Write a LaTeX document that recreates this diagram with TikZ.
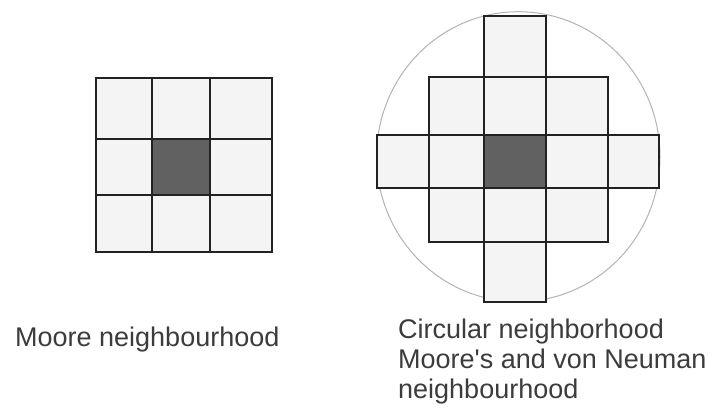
\documentclass[tikz,border=0pt]{standalone}
\usepackage{fontspec}
\setmainfont{Liberation Sans}
\definecolor{cellfill}{HTML}{F4F4F4}
\definecolor{centerfill}{HTML}{616161}
\definecolor{gridline}{HTML}{222222}
\definecolor{ringline}{HTML}{B4B4B4}
\definecolor{labeltext}{HTML}{3C3C3C}
\begin{document}
\begin{tikzpicture}[x=1pt,y=-1pt,
  cell/.style={fill=cellfill,draw=gridline,line width=1.1pt},
  centercell/.style={fill=centerfill,draw=gridline,line width=1.1pt},
  ring/.style={draw=ringline,line width=1pt},
  caption/.style={anchor=base west,inner sep=0pt,text=labeltext,font=\fontsize{27}{30}\selectfont}]
\useasboundingbox[fill=white] (0,0) rectangle (717,408);
% Moore neighbourhood
\foreach \xa/\xb in {96/152,152/210,210/272}
  \foreach \ya/\yb in {78/139,139/195,195/252}
    \path[cell] (\xa,\ya) rectangle (\xb,\yb);
\path[centercell] (152,139) rectangle (210,195);
% Circular neighbourhood
\path[ring] (518.3,156.7) ellipse [x radius=141.7pt, y radius=145pt];
\path[cell] (484,16) rectangle (546,78);
\path[cell] (484,241) rectangle (546,302);
\path[cell] (377,135) rectangle (429,188);
\path[cell] (608,135) rectangle (659,188);
\foreach \xa/\xb in {429/484,484/546,546/608}
  \foreach \ya/\yb in {77/135,135/188,188/242}
    \path[cell] (\xa,\ya) rectangle (\xb,\yb);
\path[centercell] (484,135) rectangle (546,188);
% labels
\node[caption] (moore) at (15,346) {Moore neighbourhood};
\node[caption] (circ1) at (398,338) {Circular neighborhood};
\node[caption] (circ2) at (398,368) {Moore\textquotesingle s and von Neuman};
\node[caption] (circ3) at (398,398) {neighbourhood};
\end{tikzpicture}
\end{document}
